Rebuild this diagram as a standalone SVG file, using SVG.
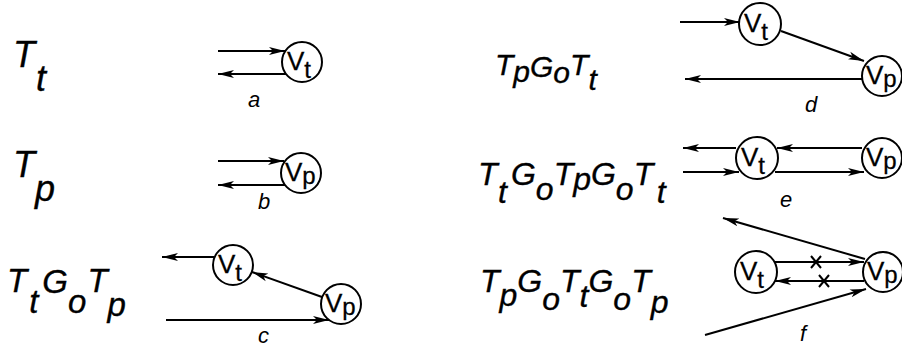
<svg xmlns="http://www.w3.org/2000/svg" width="902" height="349" viewBox="0 0 902 349">
<style>
.bg{fill:#fff}
.nd{fill:#fff;stroke:#000;stroke-width:2}
.v{font-family:"Liberation Sans",Arial,sans-serif;font-size:26px;fill:#000;stroke:#000;stroke-width:0.3}
.vs{font-size:24px}
.f{font-family:"Liberation Sans",Arial,sans-serif;font-style:italic;font-size:32px;fill:#000;stroke:#000;stroke-width:0.35}
.lb{font-family:"Liberation Sans",Arial,sans-serif;font-style:italic;font-size:22px;fill:#000}
.ln{stroke:#000;stroke-width:2;fill:none}
.ar{stroke:#000;stroke-width:2;fill:none;marker-end:url(#ah)}
</style>
<defs>
<marker id="ah" viewBox="0 0 16 9" refX="16" refY="4.5" markerWidth="16" markerHeight="9" markerUnits="userSpaceOnUse" orient="auto">
<path d="M0,0.5 L16,4.5 L0,8.5 L4,4.5 Z" fill="#000"/>
</marker>
</defs>
<rect class="bg" x="0" y="0" width="902" height="349"/>

<g id="formulas">
<text class="f" style="font-size:36px" x="13" y="67">T<tspan dx="1" dy="24">t</tspan></text>
<text class="f" style="font-size:36px" x="13" y="177">T<tspan dy="24">p</tspan></text>
<text class="f" style="font-size:33px" x="7" y="292">T<tspan dx="2" dy="21">t</tspan><tspan dx="4" dy="-20">G</tspan><tspan dy="20">o</tspan><tspan dx="1" dy="-21">T</tspan><tspan dy="24">p</tspan></text>
<text class="f" style="font-size:30px" x="495" y="75">T<tspan dy="7">p</tspan><tspan dy="-5">G</tspan><tspan dy="6">o</tspan><tspan dy="-8">T</tspan><tspan dy="15">t</tspan></text>
<text class="f" x="478" y="185">T<tspan dx="0.5" dy="18">t</tspan><tspan dx="4" dy="-18">G</tspan><tspan dy="15">o</tspan><tspan dy="-15">T</tspan><tspan dy="5">p</tspan><tspan dy="-5">G</tspan><tspan dy="15">o</tspan><tspan dy="-15">T</tspan><tspan dx="3.5" dy="18">t</tspan></text>
<text class="f" x="480" y="292">T<tspan dy="14">p</tspan><tspan dy="-14">G</tspan><tspan dy="18">o</tspan><tspan dy="-18">T</tspan><tspan dy="15">t</tspan><tspan dy="-15">G</tspan><tspan dy="18">o</tspan><tspan dy="-18">T</tspan><tspan dy="21">p</tspan></text>
</g>

<g id="connectors">
<line class="ar" x1="218" y1="51" x2="285" y2="51"/>
<line class="ar" x1="286" y1="74" x2="218" y2="74"/>
<line class="ar" x1="218" y1="161" x2="284" y2="161"/>
<line class="ar" x1="287" y1="185" x2="218" y2="185"/>
<line class="ar" x1="214" y1="257" x2="162" y2="257"/>
<line class="ar" x1="322" y1="297" x2="252" y2="272"/>
<line class="ar" x1="166" y1="320" x2="329" y2="320"/>
<line class="ar" x1="680" y1="22" x2="740" y2="22"/>
<line class="ar" x1="781" y1="31" x2="864" y2="61"/>
<line class="ar" x1="862" y1="79" x2="685" y2="79"/>
<line class="ar" x1="736" y1="148" x2="683" y2="148"/>
<line class="ar" x1="683" y1="172" x2="739" y2="172"/>
<line class="ar" x1="862" y1="148" x2="777" y2="148"/>
<line class="ar" x1="775" y1="172" x2="864" y2="172"/>
<line class="ar" x1="865" y1="259" x2="723" y2="218"/>
<line class="ar" x1="775" y1="262" x2="864" y2="262"/>
<line class="ar" x1="864" y1="281" x2="775" y2="281"/>
<line class="ar" x1="705" y1="335" x2="866" y2="289"/>
<path class="ln" d="M811,256 L821,268 M821,256 L811,268 M819,275 L829,287 M829,275 L819,287"/>
</g>

<g id="node-a-Vt"><circle class="nd" cx="302" cy="62" r="20"/><text class="v" x="287" y="70">V<tspan class="vs" dy="8">t</tspan></text></g>
<g id="node-b-Vp"><circle class="nd" cx="301" cy="173" r="20"/><text class="v" x="285" y="181">V<tspan class="vs" dy="3">p</tspan></text></g>
<g id="node-c-Vt"><circle class="nd" cx="233" cy="265" r="20"/><text class="v" x="218" y="273">V<tspan class="vs" dy="8">t</tspan></text></g>
<g id="node-c-Vp"><circle class="nd" cx="341" cy="304" r="20"/><text class="v" x="325" y="312">V<tspan class="vs" dy="3">p</tspan></text></g>
<g id="node-d-Vt"><circle class="nd" cx="760" cy="24" r="21"/><text class="v" x="744" y="32">V<tspan class="vs" dy="8">t</tspan></text></g>
<g id="node-d-Vp"><circle class="nd" cx="882" cy="76" r="20"/><text class="v" x="866" y="84">V<tspan class="vs" dy="3">p</tspan></text></g>
<g id="node-e-Vt"><circle class="nd" cx="757" cy="158" r="21"/><text class="v" x="741" y="166">V<tspan class="vs" dy="8">t</tspan></text></g>
<g id="node-e-Vp"><circle class="nd" cx="882" cy="158" r="20"/><text class="v" x="866" y="166">V<tspan class="vs" dy="3">p</tspan></text></g>
<g id="node-f-Vt"><circle class="nd" cx="756" cy="272" r="21"/><text class="v" x="740" y="280">V<tspan class="vs" dy="8">t</tspan></text></g>
<g id="node-f-Vp"><circle class="nd" cx="883" cy="272" r="20"/><text class="v" x="867" y="280">V<tspan class="vs" dy="3">p</tspan></text></g>

<g id="labels">
<text class="lb" x="248" y="107">a</text>
<text class="lb" x="258" y="209">b</text>
<text class="lb" x="258" y="343">c</text>
<text class="lb" x="805" y="112">d</text>
<text class="lb" x="780" y="207">e</text>
<text class="lb" x="800" y="341">f</text>
</g>
</svg>
